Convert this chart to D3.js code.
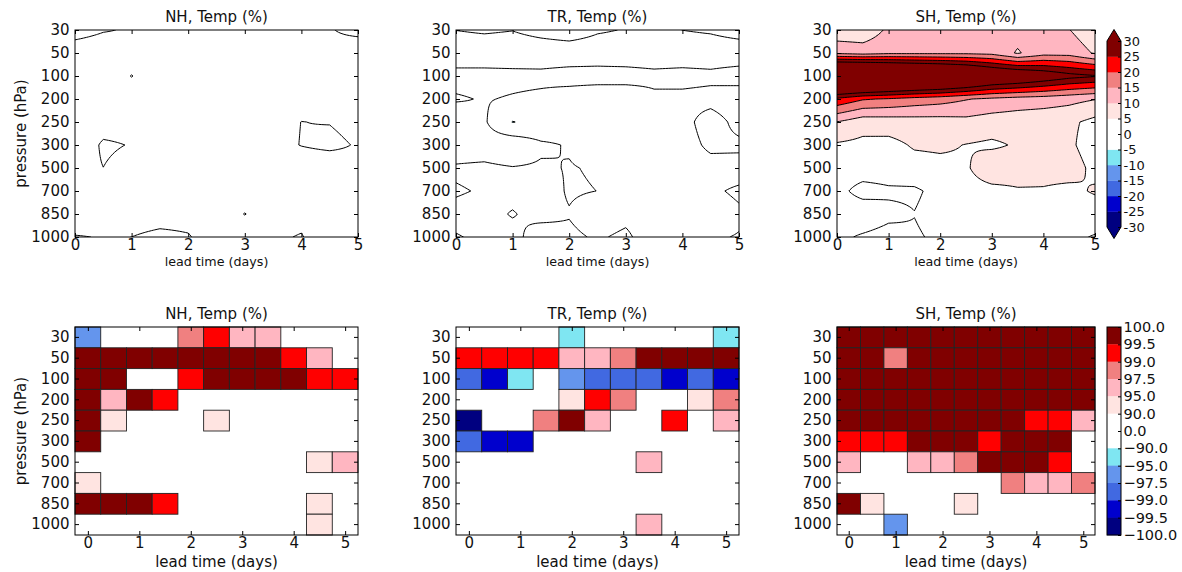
<!DOCTYPE html>
<html><head><meta charset="utf-8">
<script src="https://cdn.jsdelivr.net/npm/d3@7"></script>
<style>body{margin:0;background:#fff;} svg{display:block;}</style>
</head><body><svg id="c" width="1182" height="572"></svg>
<script>
// ---------- data ----------
const levels = ["30","50","100","200","250","300","500","700","850","1000"];
const leadTimes = [0,0.5,1,1.5,2,2.5,3,3.5,4,4.5,5];
const xTicks = [0,1,2,3,4,5];
const regions = ["NH","TR","SH"];
const contourLevels = [-30,-25,-20,-15,-10,-5,0,5,10,15,20,25,30];
const bandColors = ["#000080","#0000cd","#4169e1","#6495ed","#7fe6f2","#ffffff","#ffffff","#ffe4e1","#ffb6c1","#f08080","#ff0000","#800000"];
const underColor = "#000080", overColor = "#800000";
const sigBounds = [100,99.5,99,97.5,95,90,0,-90,-95,-97.5,-99,-99.5,-100];

// top row: temperature change (%) by level (rows) and lead time (columns)
const nhTemp = [
  [3,0.5,-0.64,-2,-2,-2,-2,-2,-2,-0.44,2],
  [-4,-4.5,-2,-2,-2,-2,-2,-2,-2,-2,-4.8],
  [-2,-2,0.1,-2,-2,-2,-2,-2,-2,-2,-2],
  [-2,-2,-2,-2,-2,-2,-2,-2,-2,-2,-2],
  [-2,-2.5,-2,-2,-2,-2,-2,-2,0.05,-0.22,-2],
  [-4.2,0.8,-0.25,-2,-2,-2,-2,-2,0.2,1.5,-0.53],
  [-2,-0.03,-2,-2,-2,-2,-2,-2,-4,-4.5,-2],
  [-2,-2,-2,-2,-2,-2,-2,-2,-2,-2,-2],
  [-3.45,-2,-2,-1.78,-1.46,-2,0.1,-2,-1.46,-2,-2],
  [0.3,-0.245,0.01,1,0.3,-2.2,-2,-0.7,0.3,-3.45,-2]
];
const trTemp = [
  [0.06,0.61,0.125,1.6,2.77,0.61,-0.25,-1,0.03,0.61,2.0],
  [-3,-3,-3,-3,-3,-3,-3,-3,-3,-3,-3],
  [1.62,1.62,1.41,1.29,2.0,2.26,2.0,1.29,1.69,1.23,2.26],
  [-0.48,0.3,-0.42,-1.06,-2.44,-3.69,-3.26,-0.97,-1.27,-1.70,-3.12],
  [3.2,0.56,-5.15,-3.5,-2,-2,-2,-2,-1.7,2.35,-1.57],
  [2,2,3.37,0.7,-0.3,-2,-2,-2,-2.1,1,0.96],
  [-0.41,-0.74,-0.22,-0.5,0.2,-0.34,-2,-2,-2,-1.7,-1.86],
  [0.23,-0.21,-0.9,-1.82,0.4,-0.02,-2,-2,-2,-0.65,0.65],
  [-0.62,-0.9,0.2,-1,-0.22,-2,-1,-2,-2,-2,-0.58],
  [0.127,-0.36,-0.96,1.6,0.74,-0.42,0.69,-2.19,-2,-0.38,0.18]
];
const shTemp = [
  [6.3,6.2,11,11.5,12,12,12,12,12,10.15,6.5],
  [14,13,14,14,14,14,13.5,9.5,13,13,9.5],
  [55,55,52,50,48,45,40,38,35,32,30.5],
  [24,20.5,19.5,18,17,15.3,14,13,12.5,11.5,10.2],
  [9.9,7,7.3,7.7,7.9,8.5,7.5,7,6.5,6,3.6],
  [4.4,3.8,3.6,5.5,5.8,4.85,4.17,5.5,6.5,6,2.2],
  [3,3,3,3.2,3.64,4.33,8.5,7.5,7,7.5,3.6],
  [1.77,-2.08,-0.9,-0.75,1.46,3,3.5,4.52,4.53,3.6,5.6],
  [3,3.7,1.4,0.12,2,2.5,2.5,2.5,2.5,2.2,2],
  [1.24,-0.7,-2.1,-0.63,0.95,1.5,1.5,1.5,1.2,0.77,-0.27]
];

// bottom row: significance (%) ; null = not significant (not drawn)
const _ = null;
const nhSig = [
  [-96,_,_,_,98.2,99.2,96,96,_,_,_],
  [99.8,99.8,99.8,99.8,99.8,99.8,99.8,99.8,99.2,96,_],
  [99.8,99.8,_,_,99.2,99.8,99.8,99.8,99.8,99.2,99.2],
  [99.8,96,99.8,99.2,_,_,_,_,_,_,_],
  [99.8,92,_,_,_,92,_,_,_,_,_],
  [99.8,_,_,_,_,_,_,_,_,_,_],
  [_,_,_,_,_,_,_,_,_,92,96],
  [92,_,_,_,_,_,_,_,_,_,_],
  [99.8,99.8,99.8,99.2,_,_,_,_,_,92,_],
  [_,_,_,_,_,_,_,_,_,92,_]
];
const trSig = [
  [_,_,_,_,-92,_,_,_,_,_,-92],
  [99.2,99.2,99.2,99.2,96,96,98.2,99.8,99.8,99.8,99.8],
  [-98.2,-99.2,-92,_,-96,-98.2,-98.2,-98.2,-99.2,-98.2,-99.2],
  [_,_,_,_,92,99.2,98.2,_,_,92,98.2],
  [-99.8,_,_,98.2,99.8,96,_,_,99.2,_,96],
  [-98.2,-99.2,-99.2,_,_,_,_,_,_,_,_],
  [_,_,_,_,_,_,_,96,_,_,_],
  [_,_,_,_,_,_,_,_,_,_,_],
  [_,_,_,_,_,_,_,_,_,_,_],
  [_,_,_,_,_,_,_,96,_,_,_]
];
const shSig = [
  [99.8,99.8,99.8,99.8,99.8,99.8,99.8,99.8,99.8,99.8,99.8],
  [99.8,99.8,98.2,99.8,99.8,99.8,99.8,99.8,99.8,99.8,99.8],
  [99.8,99.8,99.8,99.8,99.8,99.8,99.8,99.8,99.8,99.8,99.8],
  [99.8,99.8,99.8,99.8,99.8,99.8,99.8,99.8,99.8,99.8,99.8],
  [99.8,99.8,99.8,99.8,99.8,99.8,99.8,99.8,99.2,99.2,96],
  [99.2,99.2,99.2,99.8,99.8,99.8,99.2,99.8,99.8,99.8,_],
  [96,_,_,96,96,98.2,99.8,99.8,99.8,99.2,_],
  [_,_,_,_,_,_,_,98.2,96,96,98.2],
  [99.8,92,_,_,_,92,_,_,_,_,_],
  [_,_,-96,_,_,_,_,_,_,_,_]
];

// ---------- layout ----------
const FONT = "'DejaVu Sans', 'Liberation Sans', sans-serif";
const TXT = "#111";
const svg = d3.select("#c");
const cols = [{x0:75,x1:358},{x0:456,x1:739},{x0:837,x1:1095}];
const TOP = {y0:30, y1:237};
const BOT = {y0:327, y1:535};
const K = 10;

function styleAxis(sel, size) {
  sel.select(".domain").remove();
  sel.attr("font-size", null).attr("font-family", null).attr("color", "#000");
  sel.selectAll("line").attr("stroke", "#000").attr("stroke-width", 1);
  sel.selectAll("text").attr("font-size", size || 15).attr("font-family", FONT).attr("fill", TXT);
}

function fineGrid(data, k) {
  const nr = data.length, nc = data[0].length;
  const nx = (nc - 1) * k + 1, ny = (nr - 1) * k + 1;
  const out = new Float64Array(nx * ny);
  for (let j = 0; j < ny; j++) {
    const fy = j / k, r0 = Math.min(Math.floor(fy), nr - 2), ty = fy - r0;
    for (let i = 0; i < nx; i++) {
      const fx = i / k, c0 = Math.min(Math.floor(fx), nc - 2), tx = fx - c0;
      out[j * nx + i] = data[r0][c0] * (1 - tx) * (1 - ty) + data[r0][c0 + 1] * tx * (1 - ty)
        + data[r0 + 1][c0] * (1 - tx) * ty + data[r0 + 1][c0 + 1] * tx * ty;
    }
  }
  return {values: out, nx, ny};
}

function frame(g, x0, x1, y0, y1) {
  g.append("rect").attr("x", x0).attr("y", y0).attr("width", x1 - x0).attr("height", y1 - y0)
    .attr("fill", "none").attr("stroke", "#000").attr("stroke-width", 1);
}

function drawTop(data, i) {
  const c = cols[i];
  const g = svg.append("g");
  const x = d3.scaleLinear().domain([0, 5]).range([c.x0, c.x1]);
  const yi = d3.scaleLinear().domain([0, levels.length - 1]).range([TOP.y0, TOP.y1]);
  const yp = d3.scalePoint().domain(levels).range([TOP.y0, TOP.y1]);
  const fg = fineGrid(data, K);
  const step = leadTimes[1] - leadTimes[0];
  const proj = d3.geoTransform({point: function(px, py) {
    this.stream.point(x(leadTimes[0] + (px - 0.5) / K * step), yi((py - 0.5) / K));
  }});
  const path = d3.geoPath(proj);
  const cs = d3.contours().size([fg.nx, fg.ny]).thresholds(contourLevels)(fg.values);
  const clipId = "clipT" + i;
  g.append("clipPath").attr("id", clipId).append("rect")
    .attr("x", c.x0).attr("y", TOP.y0).attr("width", c.x1 - c.x0).attr("height", TOP.y1 - TOP.y0);
  const cg = g.append("g").attr("clip-path", `url(#${clipId})`);
  cg.append("rect").attr("x", c.x0).attr("y", TOP.y0).attr("width", c.x1 - c.x0).attr("height", TOP.y1 - TOP.y0).attr("fill", underColor);
  cg.selectAll("path.f").data(cs).join("path").attr("class", "f").attr("d", path)
    .attr("fill", (d, k) => k < bandColors.length ? bandColors[k] : overColor).attr("stroke", "none");
  cg.selectAll("path.l").data(cs).join("path").attr("class", "l").attr("d", path)
    .attr("fill", "none").attr("stroke", "#000").attr("stroke-width", 1).attr("stroke-linejoin", "round");

  g.append("g").attr("transform", `translate(0,${TOP.y1})`)
    .call(d3.axisBottom(x).tickValues(xTicks).tickSize(-4).tickPadding(2.5).tickFormat(d3.format("d"))).call(styleAxis);
  g.append("g").attr("transform", `translate(0,${TOP.y0})`)
    .call(d3.axisTop(x).tickValues(xTicks).tickSize(-4).tickFormat("")).call(styleAxis);
  g.append("g").attr("transform", `translate(${c.x0},0)`)
    .call(d3.axisLeft(yp).tickSize(-4).tickPadding(5.5)).call(styleAxis);
  g.append("g").attr("transform", `translate(${c.x1},0)`)
    .call(d3.axisRight(yp).tickSize(-4).tickFormat("")).call(styleAxis);
  frame(g, c.x0, c.x1, TOP.y0, TOP.y1);

  g.append("text").attr("x", (c.x0 + c.x1) / 2).attr("y", 22).attr("text-anchor", "middle")
    .attr("font-family", FONT).attr("font-size", 15).attr("fill", TXT).text(regions[i] + ", Temp (%)");
  g.append("text").attr("x", (c.x0 + c.x1) / 2).attr("y", 266).attr("text-anchor", "middle")
    .attr("font-family", FONT).attr("font-size", 12.7).attr("fill", TXT).text("lead time (days)");
}

function drawBottom(data, i) {
  const c = cols[i];
  const g = svg.append("g");
  const x = d3.scaleLinear().domain([leadTimes[0] - 0.25, leadTimes[leadTimes.length - 1] + 0.25]).range([c.x0, c.x1]);
  const y = d3.scaleBand().domain(levels).range([BOT.y0, BOT.y1]);
  const inner = sigBounds.slice(1, -1).slice().reverse();
  const color = d3.scaleThreshold().domain(inner).range(bandColors);
  const cells = [];
  data.forEach((row, r) => row.forEach((v, k) => { if (v !== null) cells.push({lev: levels[r], lead: leadTimes[k], v}); }));
  g.selectAll("rect.cell").data(cells).join("rect").attr("class", "cell")
    .attr("x", d => x(d.lead - 0.25)).attr("y", d => y(d.lev))
    .attr("width", d => x(d.lead + 0.25) - x(d.lead - 0.25)).attr("height", y.bandwidth())
    .attr("fill", d => color(d.v)).attr("stroke", "#222").attr("stroke-width", 0.9);

  g.append("g").attr("transform", `translate(0,${BOT.y1})`)
    .call(d3.axisBottom(x).tickValues(xTicks).tickSize(-4).tickPadding(2.5).tickFormat(d3.format("d"))).call(styleAxis);
  g.append("g").attr("transform", `translate(0,${BOT.y0})`)
    .call(d3.axisTop(x).tickValues(xTicks).tickSize(-4).tickFormat("")).call(styleAxis);
  g.append("g").attr("transform", `translate(${c.x0},0)`)
    .call(d3.axisLeft(y).tickSize(-4).tickPadding(5.5)).call(styleAxis);
  g.append("g").attr("transform", `translate(${c.x1},0)`)
    .call(d3.axisRight(y).tickSize(-4).tickFormat("")).call(styleAxis);
  frame(g, c.x0, c.x1, BOT.y0, BOT.y1);

  g.append("text").attr("x", (c.x0 + c.x1) / 2).attr("y", 319).attr("text-anchor", "middle")
    .attr("font-family", FONT).attr("font-size", 15).attr("fill", TXT).text(regions[i] + ", Temp (%)");
  g.append("text").attr("x", (c.x0 + c.x1) / 2).attr("y", 567).attr("text-anchor", "middle")
    .attr("font-family", FONT).attr("font-size", 15).attr("fill", TXT).text("lead time (days)");
}

[nhTemp, trTemp, shTemp].forEach(drawTop);
[nhSig, trSig, shSig].forEach(drawBottom);

// y labels
[ (TOP.y0 + TOP.y1) / 2, (BOT.y0 + BOT.y1) / 2 ].forEach(cy => {
  svg.append("text").attr("transform", `translate(25.5,${cy}) rotate(-90)`).attr("text-anchor", "middle")
    .attr("font-family", FONT).attr("font-size", 15).attr("fill", TXT).text("pressure (hPa)");
});

// ---------- colorbars ----------
const CB = {x0:1107, x1:1121};
// top colorbar (extend both)
(function() {
  const g = svg.append("g");
  const s = d3.scaleLinear().domain([contourLevels[0], contourLevels[contourLevels.length - 1]]).range([227, 41]);
  const bands = contourLevels.slice(0, -1).map((lo, k) => ({lo, hi: contourLevels[k + 1], col: bandColors[k]}));
  g.selectAll("rect").data(bands).join("rect").attr("x", CB.x0).attr("width", CB.x1 - CB.x0)
    .attr("y", d => s(d.hi)).attr("height", d => s(d.lo) - s(d.hi) + 0.3).attr("fill", d => d.col);
  const xm = (CB.x0 + CB.x1) / 2;
  g.append("path").attr("d", `M${CB.x0},${s(30)}L${xm},${s(30) - 11.5}L${CB.x1},${s(30)}Z`).attr("fill", overColor);
  g.append("path").attr("d", `M${CB.x0},${s(-30)}L${xm},${s(-30) + 11.5}L${CB.x1},${s(-30)}Z`).attr("fill", underColor);
  g.append("g").attr("transform", `translate(${CB.x1},0)`)
    .call(d3.axisRight(s).tickValues(contourLevels).tickSize(-3).tickPadding(2.5).tickFormat(d => String(d))).call(sel => styleAxis(sel, 13));
  g.append("path").attr("d", `M${CB.x0},${s(30)}L${xm},${s(30) - 11.5}L${CB.x1},${s(30)}L${CB.x1},${s(-30)}L${xm},${s(-30) + 11.5}L${CB.x0},${s(-30)}Z`)
    .attr("fill", "none").attr("stroke", "#000").attr("stroke-width", 1);
})();
// bottom colorbar
(function() {
  const g = svg.append("g");
  const s = d3.scalePoint().domain(sigBounds).range([BOT.y0, BOT.y1]);
  const rev = bandColors.slice().reverse();
  const bands = sigBounds.slice(0, -1).map((hi, k) => ({hi, lo: sigBounds[k + 1], col: rev[k]}));
  g.selectAll("rect").data(bands).join("rect").attr("x", CB.x0).attr("width", CB.x1 - CB.x0)
    .attr("y", d => s(d.hi)).attr("height", d => s(d.lo) - s(d.hi) + 0.3).attr("fill", d => d.col);
  g.append("g").attr("transform", `translate(${CB.x1},0)`)
    .call(d3.axisRight(s).tickSize(-3).tickPadding(2.5).tickFormat(d3.format(".1f"))).call(sel => styleAxis(sel, 14.5));
  g.append("rect").attr("x", CB.x0).attr("y", BOT.y0).attr("width", CB.x1 - CB.x0).attr("height", BOT.y1 - BOT.y0)
    .attr("fill", "none").attr("stroke", "#000").attr("stroke-width", 1);
})();
</script></body></html>
